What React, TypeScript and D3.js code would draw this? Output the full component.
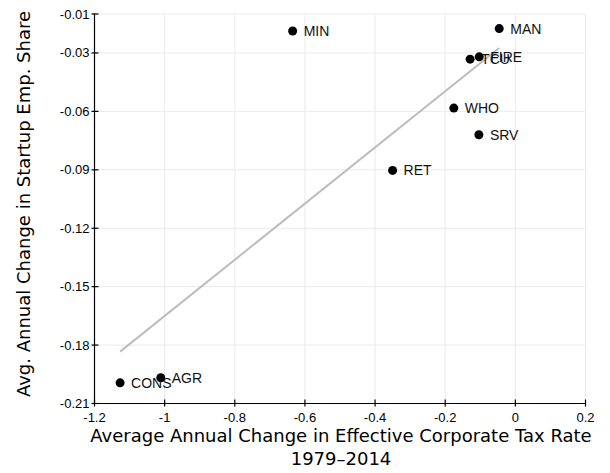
import React from "react";
import * as d3 from "d3";

const sectors = ["MIN", "MAN", "FIRE", "TCU", "WHO", "SRV", "RET", "CONS", "AGR"];
const taxChange = [-0.635, -0.046, -0.103, -0.129, -0.1755, -0.104, -0.35, -1.127, -1.011];
const startupChange = [-0.0187, -0.0175, -0.032, -0.0332, -0.0583, -0.072, -0.0903, -0.1994, -0.1968];
const xTicks = [-1.2, -1, -0.8, -0.6, -0.4, -0.2, 0, 0.2];
const yTicks = [-0.21, -0.18, -0.15, -0.12, -0.09, -0.06, -0.03, -0.01];

const W = 610;
const H = 473;

export default function App() {
  const x = d3.scaleLinear().domain([-1.2, 0.2]).range([94.5, 585.5]);
  const y = d3.scaleLinear().domain([-0.21, -0.01]).range([403.5, 14]);

  // OLS fit line across data range
  const mx = d3.mean(taxChange) as number;
  const my = d3.mean(startupChange) as number;
  let sxy = 0, sxx = 0;
  taxChange.forEach((v, i) => {
    sxy += (v - mx) * (startupChange[i] - my);
    sxx += (v - mx) * (v - mx);
  });
  const slope = sxy / sxx;
  const icpt = my - slope * mx;
  const [x0, x1] = d3.extent(taxChange) as [number, number];
  const fitLine = d3.line<[number, number]>().x((d) => x(d[0])).y((d) => y(d[1]));
  const fitPath = fitLine([[x0, icpt + slope * x0], [x1, icpt + slope * x1]]) || "";

  const tickFont = "'Liberation Sans', Arial, Helvetica, sans-serif";
  const titleFont = "'DejaVu Sans', Verdana, sans-serif";
  const fmt = (v: number) => (v === 0 ? "0" : String(v));

  const xAxisY = y(-0.21);
  const yAxisX = x(-1.2);

  return (
    <svg width={W} height={H} style={{ position: "absolute", left: 0, top: 0, display: "block", background: "#fff" }}>
      {/* grid */}
      <g stroke="#ebebeb" strokeWidth={1}>
        {xTicks.filter((t) => t !== -1.2).map((t) => (
          <line key={"gx" + t} x1={x(t)} x2={x(t)} y1={y(-0.01)} y2={xAxisY} />
        ))}
        {yTicks.filter((t) => t !== -0.21).map((t) => (
          <line key={"gy" + t} x1={yAxisX} x2={x(0.2)} y1={y(t)} y2={y(t)} />
        ))}
      </g>
      {/* fit line */}
      <path d={fitPath} stroke="#bdbdbd" strokeWidth={2} fill="none" />
      {/* points */}
      {sectors.map((s, i) => (
        <circle key={"p" + s} cx={x(taxChange[i])} cy={y(startupChange[i])} r={4.5} fill="#000" />
      ))}
      {sectors.map((s, i) => (
        <text
          key={"l" + s}
          x={x(taxChange[i]) + 11}
          y={y(startupChange[i]) + 5}
          fontFamily={tickFont}
          fontSize={14}
          fill="#111"
        >
          {s}
        </text>
      ))}
      {/* axes */}
      <line x1={yAxisX} x2={yAxisX} y1={y(-0.01) - 0.5} y2={xAxisY} stroke="#000" strokeWidth={1.2} />
      <line x1={yAxisX} x2={x(0.2)} y1={xAxisY} y2={xAxisY} stroke="#000" strokeWidth={1.2} />
      {yTicks.map((t) => (
        <g key={"yt" + t}>
          <line x1={yAxisX - 3} x2={yAxisX + 4} y1={y(t)} y2={y(t)} stroke="#000" strokeWidth={1.2} />
          <text x={yAxisX - 5} y={y(t) + 4.5} textAnchor="end" fontFamily={tickFont} fontSize={13} fill="#000">
            {fmt(t)}
          </text>
        </g>
      ))}
      {xTicks.map((t) => (
        <g key={"xt" + t}>
          <line x1={x(t)} x2={x(t)} y1={xAxisY - 4} y2={xAxisY + 3} stroke="#000" strokeWidth={1.2} />
          <text x={x(t)} y={xAxisY + 18.5} textAnchor="middle" fontFamily={tickFont} fontSize={13} fill="#000">
            {fmt(t)}
          </text>
        </g>
      ))}
      {/* titles */}
      <text x={341} y={441.5} textAnchor="middle" fontFamily={titleFont} fontSize={18} fill="#000">
        Average Annual Change in Effective Corporate Tax Rate
      </text>
      <text x={341} y={465} textAnchor="middle" fontFamily={titleFont} fontSize={18} fill="#000">
        1979–2014
      </text>
      <text
        transform={`translate(30,204) rotate(-90)`}
        textAnchor="middle"
        fontFamily={titleFont}
        fontSize={18}
        fill="#000"
      >
        Avg. Annual Change in Startup Emp. Share
      </text>
    </svg>
  );
}
